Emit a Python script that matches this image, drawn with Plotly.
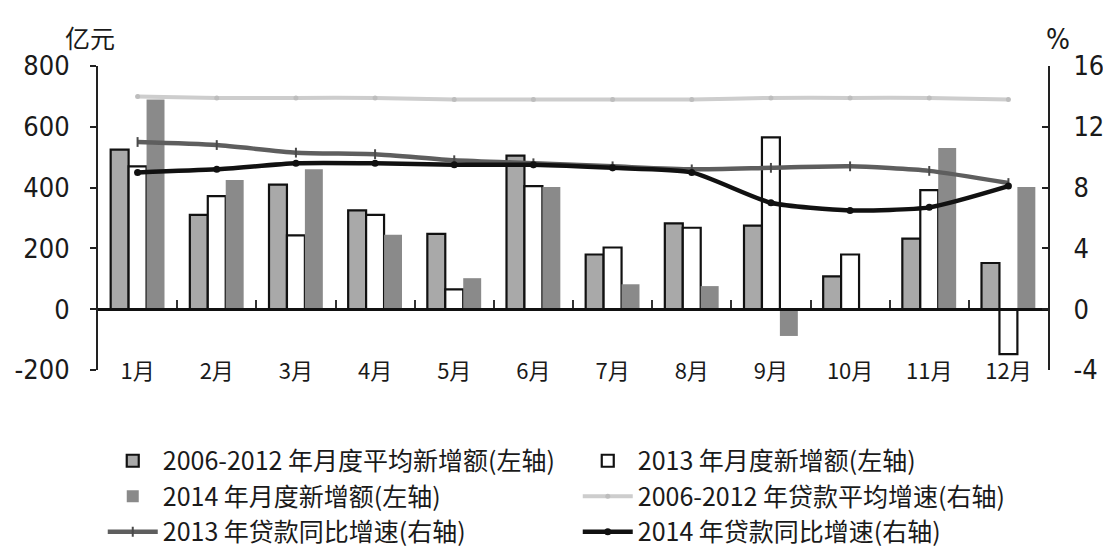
import plotly.graph_objects as go

# Months (category labels)
months = ["1月", "2月", "3月", "4月", "5月", "6月", "7月", "8月", "9月", "10月", "11月", "12月"]

# Monthly new loans, 亿元 (left axis)
avg_new_0612 = [525, 310, 410, 325, 248, 505, 180, 282, 275, 108, 232, 152]
new_2013 = [470, 372, 243, 310, 65, 405, 203, 268, 565, 180, 392, -148]
new_2014 = [690, 425, 460, 245, 102, 402, 82, 76, -88, None, 530, 402]

# Loan growth, % (right axis)
growth_avg_0612 = [14.0, 13.9, 13.9, 13.9, 13.8, 13.8, 13.8, 13.8, 13.9, 13.9, 13.9, 13.8]
growth_2013 = [11.0, 10.8, 10.3, 10.2, 9.8, 9.6, 9.4, 9.2, 9.3, 9.4, 9.1, 8.3]
growth_2014 = [9.0, 9.2, 9.6, 9.6, 9.5, 9.5, 9.3, 9.0, 7.0, 6.5, 6.7, 8.1]

left_ticks = [-200, 0, 200, 400, 600, 800]
left_tick_text = ["-200", "0", "200", "400", "600", "800"]
right_ticks = [-4, 0, 4, 8, 12, 16]
right_tick_text = ["-4", "0", "4", "8", "12", "16"]

xs = list(range(len(months)))
boundaries = [i + 0.5 for i in range(-1, len(months))]

NUM_FONT = "DejaVu Sans Condensed, Liberation Sans Narrow, Liberation Sans, sans-serif"
CJK_FONT = "Noto Sans CJK SC, sans-serif"

fig = go.Figure()

fig.add_trace(go.Bar(
    x=xs, y=avg_new_0612, name="2006-2012 年月度平均新增额(左轴)",
    marker=dict(color="#a9a9a9", line=dict(color="#111111", width=2.2)),
    xaxis="x", yaxis="y",
))
fig.add_trace(go.Bar(
    x=xs, y=new_2013, name="2013 年月度新增额(左轴)",
    marker=dict(color="#ffffff", line=dict(color="#111111", width=2.2)),
    xaxis="x", yaxis="y",
))
fig.add_trace(go.Bar(
    x=xs, y=new_2014, name="2014 年月度新增额(左轴)",
    marker=dict(color="#8a8a8a", line=dict(color="#8a8a8a", width=0)),
    xaxis="x", yaxis="y",
))

fig.add_trace(go.Scatter(
    x=xs, y=growth_avg_0612, name="2006-2012 年贷款平均增速(右轴)",
    mode="lines+markers", line=dict(color="#cdcdcd", width=4, shape="spline", smoothing=0.6),
    marker=dict(color="#bdbdbd", size=5),
    xaxis="x2", yaxis="y2",
))
fig.add_trace(go.Scatter(
    x=xs, y=growth_2013, name="2013 年贷款同比增速(右轴)",
    mode="lines+markers", line=dict(color="#5e5e5e", width=4.5, shape="spline", smoothing=0.6),
    marker=dict(color="#4a4a4a", size=7, symbol="line-ns-open", line=dict(width=2, color="#4a4a4a")),
    xaxis="x2", yaxis="y2",
))
fig.add_trace(go.Scatter(
    x=xs, y=growth_2014, name="2014 年贷款同比增速(右轴)",
    mode="lines+markers", line=dict(color="#111111", width=4.5, shape="spline", smoothing=0.6),
    marker=dict(color="#111111", size=7),
    xaxis="x2", yaxis="y2",
))

fig.update_layout(
    width=1103, height=553,
    margin=dict(l=98, r=55, t=66, b=183),
    paper_bgcolor="white", plot_bgcolor="white",
    barmode="group", bargap=0.32, bargroupgap=0,
    font=dict(family=CJK_FONT, color="#1a1a1a"),
    xaxis=dict(
        range=[-0.5, 11.5], tickvals=xs, ticktext=months, automargin=False,
        showline=False, showgrid=False, zeroline=False, ticks="",
        tickfont=dict(family=CJK_FONT, size=22, color="#1a1a1a"),
        ticklabelstandoff=-14,
    ),
    xaxis2=dict(
        range=[-0.5, 11.5], overlaying="x", anchor="free", position=0.2, side="bottom",
        showline=True, linecolor="#111111", linewidth=3, automargin=False,
        tickvals=boundaries, ticks="inside", ticklen=8, tickwidth=1.5, tickcolor="#333333",
        showticklabels=False, showgrid=False, zeroline=False,
    ),
    yaxis=dict(
        range=[-200, 800], tickvals=left_ticks, ticktext=left_tick_text, automargin=False,
        showline=True, linecolor="#222222", linewidth=2,
        ticks="outside", ticklen=6, tickwidth=1.5, tickcolor="#222222",
        showgrid=False, zeroline=False,
        tickfont=dict(family=NUM_FONT, size=27, color="#1a1a1a"),
        ticklabelstandoff=15,
    ),
    yaxis2=dict(
        range=[-4, 16], tickvals=right_ticks, ticktext=right_tick_text,
        overlaying="y", side="right", anchor="x", automargin=False,
        showline=True, linecolor="#222222", linewidth=2,
        ticks="inside", ticklen=6, tickwidth=1.5, tickcolor="#222222",
        showgrid=False, zeroline=False,
        tickfont=dict(family=NUM_FONT, size=27, color="#1a1a1a"),
        ticklabelstandoff=18,
    ),
    legend=dict(
        orientation="h", xref="paper", x=0.005, xanchor="left",
        yref="container", y=0.208, yanchor="top",
        entrywidth=410, entrywidthmode="pixels", itemwidth=50,
        font=dict(family=CJK_FONT, size=25, color="#1a1a1a"),
        traceorder="normal", bgcolor="rgba(0,0,0,0)",
    ),
    annotations=[
        dict(text="亿元", xref="paper", yref="paper", x=-0.008, y=1.095,
             xanchor="center", yanchor="middle", showarrow=False,
             font=dict(family=CJK_FONT, size=25, color="#1a1a1a")),
        dict(text="%", xref="paper", yref="paper", x=1.01, y=1.086,
             xanchor="center", yanchor="middle", showarrow=False,
             font=dict(family=NUM_FONT, size=28, color="#1a1a1a")),
    ],
)

fig.write_html("out.html")
